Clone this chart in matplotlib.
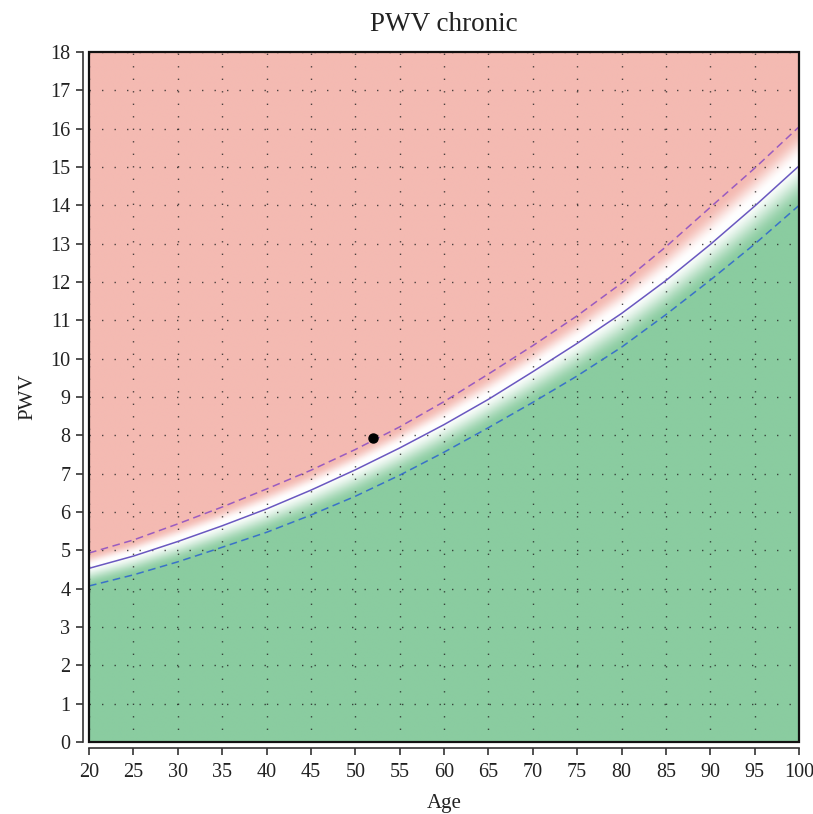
import numpy as np
import matplotlib
matplotlib.use("Agg")
import matplotlib.pyplot as plt
from matplotlib.patches import Rectangle

plt.rcParams['font.family'] = ['Liberation Serif', 'DejaVu Serif']

ages = [20, 25, 30, 35, 40, 45, 50, 55, 60, 65, 70, 75, 80, 85, 90, 95, 100]
pwv_center = [4.53, 4.85, 5.23, 5.64, 6.08, 6.57, 7.10, 7.67, 8.28, 8.94, 9.66, 10.40, 11.18, 12.04, 12.98, 13.98, 15.03]
pwv_upper = [4.93, 5.27, 5.69, 6.13, 6.60, 7.09, 7.63, 8.22, 8.88, 9.60, 10.34, 11.12, 11.97, 12.92, 13.95, 14.97, 16.05]
pwv_lower = [4.07, 4.36, 4.70, 5.08, 5.47, 5.92, 6.41, 6.96, 7.56, 8.20, 8.86, 9.55, 10.30, 11.15, 12.05, 12.99, 14.0]
patient_age = [52]
patient_pwv = [7.92]

xticks = list(range(20, 101, 5))
yticks = list(range(0, 19, 1))

fig = plt.figure(figsize=(8.13, 8.14), dpi=100)
ax = fig.add_axes([0.1095, 0.0885, 0.9828 - 0.1095, 0.936 - 0.0885])

# background gradient
red = np.array([244, 186, 178]) / 255.0
green = np.array([138, 204, 160]) / 255.0
white = np.array([1.0, 1.0, 1.0])
gx = np.linspace(20, 100, 800)
gy = np.linspace(0, 18, 1200)
X, Y = np.meshgrid(gx, gy)
c = np.interp(X, ages, pwv_center)
u = np.interp(X, ages, pwv_upper)
l = np.interp(X, ages, pwv_lower)
peak = c + 0.15 * (u - c)
above = Y >= peak
t_up = np.clip((Y - peak) / (0.8 * (u - c)), 0, 1)
t_dn = np.clip((peak - Y) / (1.05 * (c - l) + 0.15 * (u - c)), 0, 1)
t_up = 0.5 - 0.5 * np.cos(np.pi * t_up)
t_dn = 0.5 - 0.5 * np.cos(np.pi * t_dn)
img = np.empty(X.shape + (3,))
for k in range(3):
    img[..., k] = np.where(above,
                           white[k] + (red[k] - white[k]) * t_up,
                           white[k] + (green[k] - white[k]) * t_dn)
ax.imshow(img, origin='lower', extent=[20, 100, 0, 18], aspect='auto',
          interpolation='bilinear', zorder=0)

ax.set_xlim(20, 100)
ax.set_ylim(0, 18)
ax.set_xticks(xticks)
ax.set_yticks(yticks)

ax.grid(True, color='#222222', linestyle=(0, (1, 8)), linewidth=1.0, alpha=0.8, zorder=1)
ax.set_axisbelow(False)

ax.plot(ages, pwv_upper, color='#9a5cc0', lw=1.1, ls=(0, (5, 3)), zorder=3)
ax.plot(ages, pwv_lower, color='#3a72c8', lw=1.1, ls=(0, (5, 3)), zorder=3)
ax.plot(ages, pwv_center, color='#6a58c0', lw=1.1, zorder=3)
ax.plot(patient_age, patient_pwv, 'o', color='black', markersize=6.5, zorder=4)

for s in ['top', 'right']:
    ax.spines[s].set_visible(False)
for s in ['left', 'bottom']:
    ax.spines[s].set_position(('outward', 4.5))
    ax.spines[s].set_linewidth(1.2)
    ax.spines[s].set_color('#333333')
ax.add_patch(Rectangle((0, 0), 1, 1, transform=ax.transAxes, fill=False,
                       lw=1.6, edgecolor='#111111', clip_on=False, zorder=5))

ax.tick_params(axis='both', direction='out', length=5, width=1.2, color='#333333',
               labelsize=14.5, labelcolor='#222222')
ax.tick_params(axis='x', pad=6)
ax.tick_params(axis='y', pad=4)

ax.set_xlabel('Age', fontsize=15, color='#222222', labelpad=8)
ax.set_ylabel('PWV', fontsize=15, color='#222222', labelpad=9)
ax.set_title('PWV chronic', fontsize=19.5, color='#222222', pad=15)

fig.savefig('out.png', dpi=100)
